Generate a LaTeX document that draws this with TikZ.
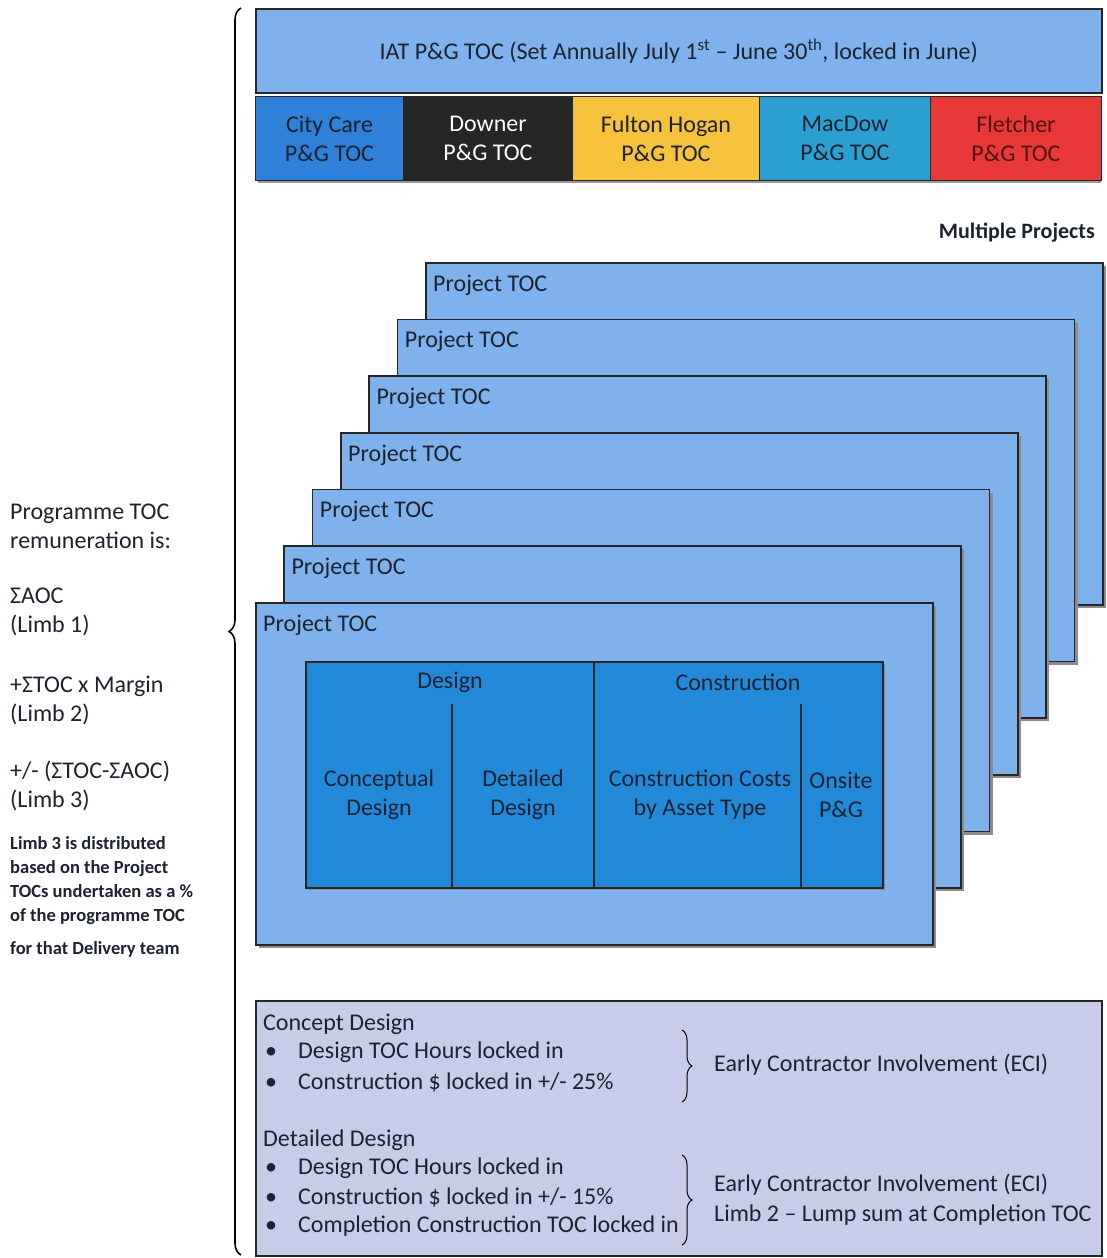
\documentclass[tikz,border=0pt]{standalone}
\usepackage{fontspec}
\setmainfont{Carlito}
\usetikzlibrary{decorations.pathreplacing}

\definecolor{lightblue}{HTML}{7FB1EC}
\definecolor{innerblue}{HTML}{2189D8}
\definecolor{citycare}{HTML}{2F80D8}
\definecolor{downer}{HTML}{262626}
\definecolor{fulton}{HTML}{F7C33C}
\definecolor{macdow}{HTML}{2A9FD0}
\definecolor{fletcher}{HTML}{E83838}
\definecolor{lavender}{HTML}{C9CCE9}
\definecolor{inkdark}{HTML}{1C2230}

\tikzset{
  txt/.style={font=\fontsize{24}{29}\selectfont, text=inkdark, inner sep=0pt, align=center},
  smalltxt/.style={font=\bfseries\fontsize{18.5}{24}\selectfont, text=inkdark, inner sep=0pt, align=left},
  box/.style={draw=black!85, line width=1.6pt, anchor=north west, inner sep=0pt},
  projbox/.style={box, fill=lightblue, minimum width=677pt, minimum height=342pt},
  cobox/.style={box, txt, minimum height=84pt, line width=1pt},
  cell/.style={box, fill=innerblue, minimum height=226pt},
  bigbrace/.style={decorate, decoration={brace, amplitude=12pt}, line width=1.6pt},
  smallbrace/.style={decorate, decoration={brace, amplitude=10pt}, line width=1pt}
}

\begin{document}
\begin{tikzpicture}[x=1pt, y=-1pt]
\fill[white] (0,0) rectangle (1103,1258);

% title bar and delivery teams
\node[box, fill=lightblue, minimum width=846pt, minimum height=84pt] (iat) at (255,8) {};
\node[txt] (iatlbl) at (iat.center) {IAT P\&G TOC (Set Annually July 1\textsuperscript{st} -- June 30\textsuperscript{th}, locked in June)};

\fill[black!40] (258,99) rectangle (1101,183);
\foreach \x/\w/\c/\t/\n/\l in {255/148/citycare/inkdark/citycare/City Care,
  403/169/downer/white/downer/Downer,
  572/187/fulton/inkdark/fulton/Fulton Hogan,
  759/171/macdow/inkdark/macdow/MacDow,
  930/171/fletcher/fletcher!35!black/fletcher/Fletcher}
\node[cobox, fill=\c, text=\t, minimum width=\w pt] (\n) at (\x,96) {\l\\P\&G TOC};

\node[txt, font=\bfseries\fontsize{22}{26}\selectfont, anchor=east] (multi) at (1095,233) {Multiple Projects};

%%%
\foreach \i in {0,...,6} {
  \pgfmathsetmacro\px{425-28.33*\i}
  \pgfmathsetmacro\py{262+56.67*\i}
  \fill[black!45] (\px+4,\py+4) rectangle ++(677,342);
  \node[projbox] (proj\i) at (\px,\py) {};
  \node[txt, anchor=west] (projlbl\i) at (\px+8,\py+23) {Project TOC};
}

\fill[black!45] (308,664) rectangle (885,890);
\node[cell, minimum width=288pt] (designcol) at (305,661) {};
\node[cell, minimum width=289pt] (constrcol) at (593,661) {};
\draw[black!85, line width=1.6pt] (452,704) -- (452,887);
\draw[black!85, line width=1.6pt] (801,704) -- (801,887);

\node[txt] (design) at (450,682) {Design};
\node[txt] (construction) at (738,682) {Construction};
\node[txt] (concdesign) at (379,795) {Conceptual\\Design};
\node[txt] (detdesign) at (523,795) {Detailed\\Design};
\node[txt] (costs) at (700,795) {Construction Costs\\by Asset Type};
\node[txt] (onsite) at (841,795) {Onsite\\P\&G};

%%%
\coordinate (bracetop) at (241,8);
\coordinate (bracebot) at (241,1255);
\draw[bigbrace] (bracebot) -- (bracetop);

\node[txt, align=left, anchor=west] (remun) at (10,526) {Programme TOC\\remuneration is:};
\node[txt, align=left, anchor=west] (limb1) at (10,612) {ΣAOC\\(Limb 1)};
\node[txt, align=left, anchor=west] (limb2) at (10,700) {+ΣTOC x Margin\\(Limb 2)};
\node[txt, align=left, anchor=west] (limb3) at (10,786) {+/- (ΣTOC-ΣAOC)\\(Limb 3)};
\node[smalltxt, anchor=west] (limbnote) at (10,881) {Limb 3 is distributed\\based on the Project\\TOCs undertaken as a \%\\of the programme TOC};
\node[smalltxt, anchor=west] (team) at (10,949) {for that Delivery team};

%%%
\node[box, fill=lavender, minimum width=846pt, minimum height=255pt] (notes) at (255,1000) {};

\node[txt, anchor=west] (concept) at (263,1024) {Concept Design};
\node[txt, anchor=west] (cd1) at (265,1052) {\makebox[33pt][l]{\textbullet}Design TOC Hours locked in};
\node[txt, anchor=west] (cd2) at (265,1082) {\makebox[33pt][l]{\textbullet}Construction \$ locked in +/- 25\%};
\coordinate (b1top) at (682,1030);
\coordinate (b1bot) at (682,1102);
\draw[smallbrace] (b1top) -- (b1bot);
\node[txt, anchor=west] (eci1) at (714,1065) {Early Contractor Involvement (ECI)};

\node[txt, anchor=west] (detailed) at (263,1140) {Detailed Design};
\node[txt, anchor=west] (dd1) at (265,1168) {\makebox[33pt][l]{\textbullet}Design TOC Hours locked in};
\node[txt, anchor=west] (dd2) at (265,1197) {\makebox[33pt][l]{\textbullet}Construction \$ locked in +/- 15\%};
\node[txt, anchor=west] (dd3) at (265,1226) {\makebox[33pt][l]{\textbullet}Completion Construction TOC locked in};
\coordinate (b2top) at (682,1155);
\coordinate (b2bot) at (682,1245);
\draw[smallbrace] (b2top) -- (b2bot);
\node[txt, anchor=west] (eci2) at (714,1185) {Early Contractor Involvement (ECI)};
\node[txt, anchor=west] (lump) at (714,1215) {Limb 2 -- Lump sum at Completion TOC};

\end{tikzpicture}
\end{document}
